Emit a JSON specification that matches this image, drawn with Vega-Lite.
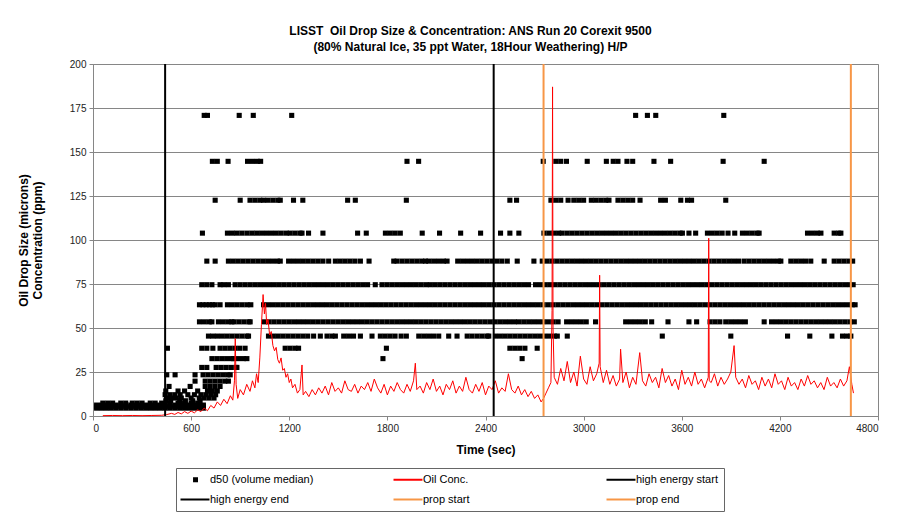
{
"$schema":"https://vega.github.io/schema/vega-lite/v6.json",
"width":785,"height":352,
"autosize":{"type":"none"},
"padding":{"left":93,"top":64,"right":25,"bottom":97},
"background":"white",
"title":{"text":["LISST\u00a0 Oil Drop Size & Concentration: ANS Run 20 Corexit 9500","(80% Natural Ice, 35 ppt Water, 18Hour Weathering) H/P"],"font":"Liberation Sans","fontSize":12,"fontWeight":"bold","color":"#000","anchor":"middle","offset":5,"dx":-15,"lineHeight":16},
"config":{"view":{"stroke":"#868686","strokeWidth":1},
"axis":{"labelFont":"Liberation Sans","titleFont":"Liberation Sans","labelFontSize":10,"titleFontSize":12,"titleFontWeight":"bold","labelColor":"#222","titleColor":"#000","tickColor":"#868686","domainColor":"#868686","tickSize":4,"labelPadding":3},
"legend":{"title":null,"orient":"none","legendX":83,"legendY":404,"columns":3,"direction":"horizontal","gridAlign":"all","columnPadding":75,"rowPadding":8,"padding":6,"strokeColor":"#666","fillColor":"white","labelFont":"Liberation Sans","labelFontSize":11,"labelColor":"#000","labelOffset":17,"symbolSize":196,"labelLimit":250}},
"datasets":{
"d50":[
{"t":22,"d":4.46},{"t":52,"d":4.46},{"t":82,"d":4.46},{"t":112,"d":4.46},{"t":142,"d":4.46},{"t":172,"d":4.46},{"t":202,"d":4.46},{"t":232,"d":4.46},{"t":262,"d":4.46},{"t":292,"d":4.46},{"t":322,"d":4.46},{"t":352,"d":4.46},{"t":382,"d":4.46},{"t":412,"d":4.46},{"t":441,"d":4.46},{"t":470,"d":4.46},{"t":500,"d":4.46},{"t":530,"d":4.46},{"t":560,"d":4.46},{"t":590,"d":4.46},{"t":620,"d":4.46},{"t":650,"d":4.46},{"t":675,"d":4.46},
{"t":22,"d":5.27},{"t":52,"d":5.27},{"t":82,"d":5.27},{"t":112,"d":5.27},{"t":142,"d":5.27},{"t":172,"d":5.27},{"t":202,"d":5.27},{"t":232,"d":5.27},{"t":262,"d":5.27},{"t":292,"d":5.27},{"t":322,"d":5.27},{"t":352,"d":5.27},{"t":382,"d":5.27},{"t":412,"d":5.27},{"t":441,"d":5.27},{"t":470,"d":5.27},{"t":500,"d":5.27},{"t":530,"d":5.27},{"t":560,"d":5.27},{"t":590,"d":5.27},{"t":620,"d":5.27},{"t":650,"d":5.27},{"t":675,"d":5.27},
{"t":22,"d":6.21},{"t":52,"d":6.21},{"t":82,"d":6.21},{"t":112,"d":6.21},{"t":142,"d":6.21},{"t":172,"d":6.21},{"t":202,"d":6.21},{"t":232,"d":6.21},{"t":262,"d":6.21},{"t":292,"d":6.21},{"t":322,"d":6.21},{"t":352,"d":6.21},{"t":382,"d":6.21},{"t":412,"d":6.21},{"t":441,"d":6.21},{"t":470,"d":6.21},{"t":500,"d":6.21},{"t":530,"d":6.21},{"t":560,"d":6.21},{"t":590,"d":6.21},{"t":620,"d":6.21},{"t":650,"d":6.21},{"t":675,"d":6.21},
{"t":60,"d":7.33},{"t":90,"d":7.33},{"t":120,"d":7.33},{"t":170,"d":7.33},{"t":200,"d":7.33},{"t":240,"d":7.33},{"t":270,"d":7.33},{"t":300,"d":7.33},{"t":350,"d":7.33},{"t":380,"d":7.33},{"t":420,"d":7.33},{"t":470,"d":7.33},{"t":520,"d":7.33},{"t":560,"d":7.33},{"t":600,"d":7.33},{"t":640,"d":7.33},
{"t":445,"d":8.65},{"t":475,"d":8.65},{"t":530,"d":8.65},{"t":565,"d":8.65},{"t":610,"d":8.65},{"t":655,"d":8.65},
{"t":450,"d":10.2},{"t":480,"d":10.2},{"t":510,"d":10.2},{"t":540,"d":10.2},{"t":600,"d":10.2},{"t":650,"d":10.2},{"t":680,"d":10.2},{"t":710,"d":10.2},{"t":740,"d":10.2},
{"t":441,"d":12.1},{"t":470,"d":12.1},{"t":500,"d":12.1},{"t":533,"d":12.1},{"t":580,"d":12.1},{"t":620,"d":12.1},{"t":660,"d":12.1},{"t":690,"d":12.1},{"t":720,"d":12.1},{"t":750,"d":12.1},
{"t":445,"d":14.2},{"t":520,"d":14.2},{"t":560,"d":14.2},{"t":640,"d":14.2},{"t":700,"d":14.2},{"t":730,"d":14.2},{"t":760,"d":14.2},
{"t":465,"d":16.8},{"t":594,"d":16.8},{"t":686,"d":16.8},{"t":716,"d":16.8},{"t":746,"d":16.8},{"t":777,"d":16.8},
{"t":624,"d":19.8},{"t":686,"d":19.8},{"t":716,"d":19.8},{"t":746,"d":19.8},{"t":776,"d":19.8},{"t":806,"d":19.8},{"t":828,"d":19.8},
{"t":451,"d":23.4},{"t":502,"d":23.4},{"t":624,"d":23.4},{"t":673,"d":23.4},{"t":703,"d":23.4},{"t":733,"d":23.4},{"t":763,"d":23.4},{"t":793,"d":23.4},{"t":823,"d":23.4},{"t":839,"d":23.4},
{"t":665,"d":27.6},{"t":696,"d":27.6},{"t":753,"d":27.6},{"t":783,"d":27.6},{"t":813,"d":27.6},{"t":843,"d":27.6},{"t":873,"d":27.6},{"t":880,"d":27.6},
{"t":727,"d":32.6},{"t":757,"d":32.6},{"t":787,"d":32.6},{"t":817,"d":32.6},{"t":847,"d":32.6},{"t":859,"d":32.6},{"t":890,"d":32.6},{"t":920,"d":32.6},{"t":941,"d":32.6},{"t":1773,"d":32.6},{"t":2624,"d":32.6},
{"t":455,"d":38.5},{"t":665,"d":38.5},{"t":696,"d":38.5},{"t":733,"d":38.5},{"t":777,"d":38.5},{"t":807,"d":38.5},{"t":837,"d":38.5},{"t":867,"d":38.5},{"t":897,"d":38.5},{"t":930,"d":38.5},{"t":1175,"d":38.5},{"t":1205,"d":38.5},{"t":1235,"d":38.5},{"t":1257,"d":38.5},{"t":1794,"d":38.5},{"t":2549,"d":38.5},{"t":2579,"d":38.5},{"t":2609,"d":38.5},{"t":2641,"d":38.5},{"t":2716,"d":38.5},
{"t":706,"d":45.4},{"t":733,"d":45.4},{"t":761,"d":45.4},{"t":791,"d":45.4},{"t":821,"d":45.4},{"t":851,"d":45.4},{"t":881,"d":45.4},{"t":911,"d":45.4},{"t":941,"d":45.4},{"t":951,"d":45.4},{"t":1073,"d":45.4},{"t":1103,"d":45.4},{"t":1133,"d":45.4},{"t":1163,"d":45.4},{"t":1193,"d":45.4},{"t":1223,"d":45.4},{"t":1253,"d":45.4},{"t":1283,"d":45.4},{"t":1313,"d":45.4},{"t":1349,"d":45.4},{"t":1390,"d":45.4},{"t":1431,"d":45.4},{"t":1461,"d":45.4},{"t":1482,"d":45.4},{"t":1533,"d":45.4},{"t":1563,"d":45.4},{"t":1593,"d":45.4},{"t":1635,"d":45.4},{"t":1706,"d":45.4},{"t":1757,"d":45.4},{"t":1787,"d":45.4},{"t":1817,"d":45.4},{"t":1847,"d":45.4},{"t":1884,"d":45.4},{"t":1916,"d":45.4},{"t":1992,"d":45.4},{"t":2022,"d":45.4},{"t":2052,"d":45.4},{"t":2082,"d":45.4},{"t":2114,"d":45.4},{"t":2175,"d":45.4},{"t":2226,"d":45.4},{"t":2288,"d":45.4},{"t":2318,"d":45.4},{"t":2349,"d":45.4},{"t":2379,"d":45.4},{"t":2409,"d":45.4},{"t":2420,"d":45.4},{"t":2461,"d":45.4},{"t":2491,"d":45.4},{"t":2521,"d":45.4},{"t":2551,"d":45.4},{"t":2581,"d":45.4},{"t":2611,"d":45.4},{"t":2641,"d":45.4},{"t":2671,"d":45.4},{"t":2701,"d":45.4},{"t":2731,"d":45.4},{"t":2761,"d":45.4},{"t":2791,"d":45.4},{"t":2821,"d":45.4},{"t":2839,"d":45.4},{"t":2900,"d":45.4},{"t":3481,"d":45.4},{"t":3900,"d":45.4},{"t":4247,"d":45.4},{"t":4383,"d":45.4},{"t":4518,"d":45.4},{"t":4583,"d":45.4},{"t":4610,"d":45.4},{"t":4634,"d":45.4},
{"t":651,"d":53.5},{"t":681,"d":53.5},{"t":711,"d":53.5},{"t":727,"d":53.5},{"t":767,"d":53.5},{"t":797,"d":53.5},{"t":827,"d":53.5},{"t":849,"d":53.5},{"t":863,"d":53.5},{"t":893,"d":53.5},{"t":923,"d":53.5},{"t":953,"d":53.5},{"t":961,"d":53.5},{"t":1047,"d":53.5},{"t":1077,"d":53.5},{"t":1107,"d":53.5},{"t":1137,"d":53.5},{"t":1167,"d":53.5},{"t":1197,"d":53.5},{"t":1227,"d":53.5},{"t":1257,"d":53.5},{"t":1287,"d":53.5},{"t":1317,"d":53.5},{"t":1347,"d":53.5},{"t":1377,"d":53.5},{"t":1407,"d":53.5},{"t":1437,"d":53.5},{"t":1467,"d":53.5},{"t":1497,"d":53.5},{"t":1527,"d":53.5},{"t":1557,"d":53.5},{"t":1587,"d":53.5},{"t":1617,"d":53.5},{"t":1647,"d":53.5},{"t":1677,"d":53.5},{"t":1707,"d":53.5},{"t":1737,"d":53.5},{"t":1767,"d":53.5},{"t":1797,"d":53.5},{"t":1827,"d":53.5},{"t":1857,"d":53.5},{"t":1887,"d":53.5},{"t":1917,"d":53.5},{"t":1947,"d":53.5},{"t":1977,"d":53.5},{"t":2007,"d":53.5},{"t":2037,"d":53.5},{"t":2067,"d":53.5},{"t":2097,"d":53.5},{"t":2127,"d":53.5},{"t":2157,"d":53.5},{"t":2187,"d":53.5},{"t":2217,"d":53.5},{"t":2247,"d":53.5},{"t":2277,"d":53.5},{"t":2307,"d":53.5},{"t":2337,"d":53.5},{"t":2367,"d":53.5},{"t":2397,"d":53.5},{"t":2427,"d":53.5},{"t":2457,"d":53.5},{"t":2487,"d":53.5},{"t":2517,"d":53.5},{"t":2547,"d":53.5},{"t":2577,"d":53.5},{"t":2604,"d":53.5},{"t":2634,"d":53.5},{"t":2664,"d":53.5},{"t":2694,"d":53.5},{"t":2724,"d":53.5},{"t":2754,"d":53.5},{"t":2784,"d":53.5},{"t":2814,"d":53.5},{"t":2844,"d":53.5},{"t":2896,"d":53.5},{"t":2926,"d":53.5},{"t":2956,"d":53.5},{"t":2986,"d":53.5},{"t":3016,"d":53.5},{"t":3073,"d":53.5},{"t":3257,"d":53.5},{"t":3287,"d":53.5},{"t":3317,"d":53.5},{"t":3347,"d":53.5},{"t":3377,"d":53.5},{"t":3416,"d":53.5},{"t":3516,"d":53.5},{"t":3644,"d":53.5},{"t":3691,"d":53.5},{"t":3773,"d":53.5},{"t":3803,"d":53.5},{"t":3833,"d":53.5},{"t":3869,"d":53.5},{"t":3899,"d":53.5},{"t":3929,"d":53.5},{"t":3959,"d":53.5},{"t":3989,"d":53.5},{"t":4104,"d":53.5},{"t":4149,"d":53.5},{"t":4179,"d":53.5},{"t":4209,"d":53.5},{"t":4239,"d":53.5},{"t":4269,"d":53.5},{"t":4299,"d":53.5},{"t":4329,"d":53.5},{"t":4359,"d":53.5},{"t":4389,"d":53.5},{"t":4419,"d":53.5},{"t":4449,"d":53.5},{"t":4479,"d":53.5},{"t":4509,"d":53.5},{"t":4539,"d":53.5},{"t":4569,"d":53.5},{"t":4599,"d":53.5},{"t":4629,"d":53.5},{"t":4655,"d":53.5},
{"t":651,"d":63.2},{"t":672,"d":63.2},{"t":692,"d":63.2},{"t":712,"d":63.2},{"t":730,"d":63.2},{"t":747,"d":63.2},{"t":777,"d":63.2},{"t":822,"d":63.2},{"t":852,"d":63.2},{"t":882,"d":63.2},{"t":912,"d":63.2},{"t":942,"d":63.2},{"t":965,"d":63.2},{"t":1043,"d":63.2},{"t":1073,"d":63.2},{"t":1103,"d":63.2},{"t":1133,"d":63.2},{"t":1163,"d":63.2},{"t":1193,"d":63.2},{"t":1223,"d":63.2},{"t":1253,"d":63.2},{"t":1283,"d":63.2},{"t":1313,"d":63.2},{"t":1343,"d":63.2},{"t":1373,"d":63.2},{"t":1403,"d":63.2},{"t":1433,"d":63.2},{"t":1463,"d":63.2},{"t":1493,"d":63.2},{"t":1523,"d":63.2},{"t":1553,"d":63.2},{"t":1583,"d":63.2},{"t":1613,"d":63.2},{"t":1643,"d":63.2},{"t":1673,"d":63.2},{"t":1703,"d":63.2},{"t":1733,"d":63.2},{"t":1763,"d":63.2},{"t":1793,"d":63.2},{"t":1823,"d":63.2},{"t":1853,"d":63.2},{"t":1883,"d":63.2},{"t":1913,"d":63.2},{"t":1943,"d":63.2},{"t":1973,"d":63.2},{"t":2003,"d":63.2},{"t":2033,"d":63.2},{"t":2063,"d":63.2},{"t":2093,"d":63.2},{"t":2123,"d":63.2},{"t":2153,"d":63.2},{"t":2183,"d":63.2},{"t":2213,"d":63.2},{"t":2243,"d":63.2},{"t":2273,"d":63.2},{"t":2303,"d":63.2},{"t":2333,"d":63.2},{"t":2363,"d":63.2},{"t":2393,"d":63.2},{"t":2423,"d":63.2},{"t":2453,"d":63.2},{"t":2483,"d":63.2},{"t":2513,"d":63.2},{"t":2543,"d":63.2},{"t":2573,"d":63.2},{"t":2603,"d":63.2},{"t":2633,"d":63.2},{"t":2663,"d":63.2},{"t":2693,"d":63.2},{"t":2723,"d":63.2},{"t":2753,"d":63.2},{"t":2783,"d":63.2},{"t":2813,"d":63.2},{"t":2843,"d":63.2},{"t":2873,"d":63.2},{"t":2903,"d":63.2},{"t":2933,"d":63.2},{"t":2963,"d":63.2},{"t":2993,"d":63.2},{"t":3023,"d":63.2},{"t":3053,"d":63.2},{"t":3083,"d":63.2},{"t":3113,"d":63.2},{"t":3143,"d":63.2},{"t":3173,"d":63.2},{"t":3203,"d":63.2},{"t":3233,"d":63.2},{"t":3263,"d":63.2},{"t":3293,"d":63.2},{"t":3323,"d":63.2},{"t":3353,"d":63.2},{"t":3383,"d":63.2},{"t":3413,"d":63.2},{"t":3443,"d":63.2},{"t":3473,"d":63.2},{"t":3503,"d":63.2},{"t":3533,"d":63.2},{"t":3563,"d":63.2},{"t":3593,"d":63.2},{"t":3623,"d":63.2},{"t":3653,"d":63.2},{"t":3683,"d":63.2},{"t":3713,"d":63.2},{"t":3743,"d":63.2},{"t":3773,"d":63.2},{"t":3803,"d":63.2},{"t":3833,"d":63.2},{"t":3863,"d":63.2},{"t":3893,"d":63.2},{"t":3923,"d":63.2},{"t":3953,"d":63.2},{"t":3983,"d":63.2},{"t":4013,"d":63.2},{"t":4043,"d":63.2},{"t":4073,"d":63.2},{"t":4103,"d":63.2},{"t":4133,"d":63.2},{"t":4163,"d":63.2},{"t":4193,"d":63.2},{"t":4223,"d":63.2},{"t":4253,"d":63.2},{"t":4283,"d":63.2},{"t":4313,"d":63.2},{"t":4343,"d":63.2},{"t":4373,"d":63.2},{"t":4403,"d":63.2},{"t":4433,"d":63.2},{"t":4463,"d":63.2},{"t":4493,"d":63.2},{"t":4523,"d":63.2},{"t":4553,"d":63.2},{"t":4583,"d":63.2},{"t":4613,"d":63.2},{"t":4643,"d":63.2},{"t":4660,"d":63.2},
{"t":665,"d":74.6},{"t":695,"d":74.6},{"t":727,"d":74.6},{"t":777,"d":74.6},{"t":800,"d":74.6},{"t":828,"d":74.6},{"t":869,"d":74.6},{"t":899,"d":74.6},{"t":929,"d":74.6},{"t":959,"d":74.6},{"t":989,"d":74.6},{"t":1019,"d":74.6},{"t":1049,"d":74.6},{"t":1079,"d":74.6},{"t":1109,"d":74.6},{"t":1139,"d":74.6},{"t":1169,"d":74.6},{"t":1199,"d":74.6},{"t":1229,"d":74.6},{"t":1259,"d":74.6},{"t":1289,"d":74.6},{"t":1319,"d":74.6},{"t":1349,"d":74.6},{"t":1379,"d":74.6},{"t":1409,"d":74.6},{"t":1439,"d":74.6},{"t":1469,"d":74.6},{"t":1499,"d":74.6},{"t":1529,"d":74.6},{"t":1559,"d":74.6},{"t":1589,"d":74.6},{"t":1619,"d":74.6},{"t":1649,"d":74.6},{"t":1679,"d":74.6},{"t":1726,"d":74.6},{"t":1767,"d":74.6},{"t":1797,"d":74.6},{"t":1827,"d":74.6},{"t":1857,"d":74.6},{"t":1887,"d":74.6},{"t":1917,"d":74.6},{"t":1947,"d":74.6},{"t":1977,"d":74.6},{"t":2007,"d":74.6},{"t":2037,"d":74.6},{"t":2063,"d":74.6},{"t":2093,"d":74.6},{"t":2123,"d":74.6},{"t":2153,"d":74.6},{"t":2183,"d":74.6},{"t":2213,"d":74.6},{"t":2243,"d":74.6},{"t":2273,"d":74.6},{"t":2303,"d":74.6},{"t":2333,"d":74.6},{"t":2363,"d":74.6},{"t":2393,"d":74.6},{"t":2423,"d":74.6},{"t":2453,"d":74.6},{"t":2483,"d":74.6},{"t":2513,"d":74.6},{"t":2543,"d":74.6},{"t":2573,"d":74.6},{"t":2603,"d":74.6},{"t":2633,"d":74.6},{"t":2663,"d":74.6},{"t":2706,"d":74.6},{"t":2736,"d":74.6},{"t":2766,"d":74.6},{"t":2796,"d":74.6},{"t":2826,"d":74.6},{"t":2856,"d":74.6},{"t":2886,"d":74.6},{"t":2916,"d":74.6},{"t":2946,"d":74.6},{"t":2976,"d":74.6},{"t":3006,"d":74.6},{"t":3036,"d":74.6},{"t":3066,"d":74.6},{"t":3096,"d":74.6},{"t":3126,"d":74.6},{"t":3156,"d":74.6},{"t":3186,"d":74.6},{"t":3216,"d":74.6},{"t":3246,"d":74.6},{"t":3276,"d":74.6},{"t":3306,"d":74.6},{"t":3336,"d":74.6},{"t":3366,"d":74.6},{"t":3396,"d":74.6},{"t":3426,"d":74.6},{"t":3456,"d":74.6},{"t":3486,"d":74.6},{"t":3516,"d":74.6},{"t":3546,"d":74.6},{"t":3576,"d":74.6},{"t":3606,"d":74.6},{"t":3636,"d":74.6},{"t":3666,"d":74.6},{"t":3696,"d":74.6},{"t":3726,"d":74.6},{"t":3756,"d":74.6},{"t":3786,"d":74.6},{"t":3816,"d":74.6},{"t":3846,"d":74.6},{"t":3876,"d":74.6},{"t":3906,"d":74.6},{"t":3936,"d":74.6},{"t":3966,"d":74.6},{"t":3996,"d":74.6},{"t":4026,"d":74.6},{"t":4056,"d":74.6},{"t":4086,"d":74.6},{"t":4116,"d":74.6},{"t":4146,"d":74.6},{"t":4176,"d":74.6},{"t":4206,"d":74.6},{"t":4236,"d":74.6},{"t":4266,"d":74.6},{"t":4296,"d":74.6},{"t":4326,"d":74.6},{"t":4356,"d":74.6},{"t":4386,"d":74.6},{"t":4416,"d":74.6},{"t":4446,"d":74.6},{"t":4476,"d":74.6},{"t":4506,"d":74.6},{"t":4536,"d":74.6},{"t":4566,"d":74.6},{"t":4596,"d":74.6},{"t":4626,"d":74.6},{"t":4648,"d":74.6},
{"t":696,"d":88},{"t":747,"d":88},{"t":828,"d":88},{"t":858,"d":88},{"t":888,"d":88},{"t":918,"d":88},{"t":948,"d":88},{"t":978,"d":88},{"t":1008,"d":88},{"t":1038,"d":88},{"t":1068,"d":88},{"t":1098,"d":88},{"t":1128,"d":88},{"t":1145,"d":88},{"t":1196,"d":88},{"t":1226,"d":88},{"t":1256,"d":88},{"t":1286,"d":88},{"t":1316,"d":88},{"t":1346,"d":88},{"t":1376,"d":88},{"t":1406,"d":88},{"t":1441,"d":88},{"t":1482,"d":88},{"t":1512,"d":88},{"t":1542,"d":88},{"t":1572,"d":88},{"t":1602,"d":88},{"t":1635,"d":88},{"t":1688,"d":88},{"t":1839,"d":88},{"t":1859,"d":88},{"t":1890,"d":88},{"t":1920,"d":88},{"t":1950,"d":88},{"t":1980,"d":88},{"t":2010,"d":88},{"t":2033,"d":88},{"t":2053,"d":88},{"t":2083,"d":88},{"t":2113,"d":88},{"t":2143,"d":88},{"t":2165,"d":88},{"t":2230,"d":88},{"t":2260,"d":88},{"t":2290,"d":88},{"t":2320,"d":88},{"t":2350,"d":88},{"t":2380,"d":88},{"t":2410,"d":88},{"t":2440,"d":88},{"t":2470,"d":88},{"t":2500,"d":88},{"t":2533,"d":88},{"t":2594,"d":88},{"t":2696,"d":88},{"t":2747,"d":88},{"t":2777,"d":88},{"t":2807,"d":88},{"t":2837,"d":88},{"t":2867,"d":88},{"t":2897,"d":88},{"t":2927,"d":88},{"t":2957,"d":88},{"t":2987,"d":88},{"t":3017,"d":88},{"t":3047,"d":88},{"t":3077,"d":88},{"t":3107,"d":88},{"t":3137,"d":88},{"t":3167,"d":88},{"t":3197,"d":88},{"t":3227,"d":88},{"t":3257,"d":88},{"t":3287,"d":88},{"t":3317,"d":88},{"t":3347,"d":88},{"t":3377,"d":88},{"t":3407,"d":88},{"t":3437,"d":88},{"t":3467,"d":88},{"t":3497,"d":88},{"t":3527,"d":88},{"t":3557,"d":88},{"t":3587,"d":88},{"t":3617,"d":88},{"t":3647,"d":88},{"t":3677,"d":88},{"t":3707,"d":88},{"t":3737,"d":88},{"t":3767,"d":88},{"t":3797,"d":88},{"t":3827,"d":88},{"t":3857,"d":88},{"t":3887,"d":88},{"t":3917,"d":88},{"t":3947,"d":88},{"t":3981,"d":88},{"t":4011,"d":88},{"t":4041,"d":88},{"t":4071,"d":88},{"t":4101,"d":88},{"t":4131,"d":88},{"t":4161,"d":88},{"t":4191,"d":88},{"t":4206,"d":88},{"t":4267,"d":88},{"t":4297,"d":88},{"t":4327,"d":88},{"t":4357,"d":88},{"t":4389,"d":88},{"t":4471,"d":88},{"t":4532,"d":88},{"t":4562,"d":88},{"t":4592,"d":88},{"t":4622,"d":88},{"t":4645,"d":88},
{"t":669,"d":103.9},{"t":822,"d":103.9},{"t":852,"d":103.9},{"t":880,"d":103.9},{"t":910,"d":103.9},{"t":941,"d":103.9},{"t":971,"d":103.9},{"t":1001,"d":103.9},{"t":1031,"d":103.9},{"t":1061,"d":103.9},{"t":1091,"d":103.9},{"t":1121,"d":103.9},{"t":1151,"d":103.9},{"t":1182,"d":103.9},{"t":1206,"d":103.9},{"t":1236,"d":103.9},{"t":1266,"d":103.9},{"t":1278,"d":103.9},{"t":1318,"d":103.9},{"t":1406,"d":103.9},{"t":1618,"d":103.9},{"t":1671,"d":103.9},{"t":1788,"d":103.9},{"t":1818,"d":103.9},{"t":1848,"d":103.9},{"t":1879,"d":103.9},{"t":2013,"d":103.9},{"t":2119,"d":103.9},{"t":2248,"d":103.9},{"t":2370,"d":103.9},{"t":2492,"d":103.9},{"t":2549,"d":103.9},{"t":2604,"d":103.9},{"t":2757,"d":103.9},{"t":2787,"d":103.9},{"t":2817,"d":103.9},{"t":2847,"d":103.9},{"t":2869,"d":103.9},{"t":2900,"d":103.9},{"t":2930,"d":103.9},{"t":2960,"d":103.9},{"t":2990,"d":103.9},{"t":3020,"d":103.9},{"t":3050,"d":103.9},{"t":3080,"d":103.9},{"t":3110,"d":103.9},{"t":3140,"d":103.9},{"t":3170,"d":103.9},{"t":3200,"d":103.9},{"t":3230,"d":103.9},{"t":3260,"d":103.9},{"t":3290,"d":103.9},{"t":3320,"d":103.9},{"t":3350,"d":103.9},{"t":3380,"d":103.9},{"t":3410,"d":103.9},{"t":3440,"d":103.9},{"t":3470,"d":103.9},{"t":3500,"d":103.9},{"t":3530,"d":103.9},{"t":3560,"d":103.9},{"t":3590,"d":103.9},{"t":3604,"d":103.9},{"t":3644,"d":103.9},{"t":3685,"d":103.9},{"t":3757,"d":103.9},{"t":3787,"d":103.9},{"t":3817,"d":103.9},{"t":3847,"d":103.9},{"t":3883,"d":103.9},{"t":3924,"d":103.9},{"t":3971,"d":103.9},{"t":4001,"d":103.9},{"t":4031,"d":103.9},{"t":4061,"d":103.9},{"t":4073,"d":103.9},{"t":4369,"d":103.9},{"t":4399,"d":103.9},{"t":4429,"d":103.9},{"t":4451,"d":103.9},{"t":4532,"d":103.9},{"t":4560,"d":103.9},{"t":4573,"d":103.9},
{"t":747,"d":122.6},{"t":900,"d":122.6},{"t":960,"d":122.6},{"t":990,"d":122.6},{"t":1020,"d":122.6},{"t":1043,"d":122.6},{"t":1070,"d":122.6},{"t":1100,"d":122.6},{"t":1130,"d":122.6},{"t":1145,"d":122.6},{"t":1226,"d":122.6},{"t":1283,"d":122.6},{"t":1557,"d":122.6},{"t":1604,"d":122.6},{"t":1916,"d":122.6},{"t":2549,"d":122.6},{"t":2590,"d":122.6},{"t":2800,"d":122.6},{"t":2830,"d":122.6},{"t":2860,"d":122.6},{"t":2905,"d":122.6},{"t":2940,"d":122.6},{"t":2970,"d":122.6},{"t":3000,"d":122.6},{"t":3047,"d":122.6},{"t":3075,"d":122.6},{"t":3105,"d":122.6},{"t":3135,"d":122.6},{"t":3155,"d":122.6},{"t":3210,"d":122.6},{"t":3240,"d":122.6},{"t":3270,"d":122.6},{"t":3300,"d":122.6},{"t":3345,"d":122.6},{"t":3471,"d":122.6},{"t":3500,"d":122.6},{"t":3594,"d":122.6},{"t":3635,"d":122.6},{"t":3660,"d":122.6},{"t":3869,"d":122.6},
{"t":730,"d":144.7},{"t":760,"d":144.7},{"t":826,"d":144.7},{"t":945,"d":144.7},{"t":975,"d":144.7},{"t":1005,"d":144.7},{"t":1025,"d":144.7},{"t":1920,"d":144.7},{"t":1991,"d":144.7},{"t":2753,"d":144.7},{"t":2830,"d":144.7},{"t":2860,"d":144.7},{"t":2895,"d":144.7},{"t":3022,"d":144.7},{"t":3139,"d":144.7},{"t":3181,"d":144.7},{"t":3210,"d":144.7},{"t":3265,"d":144.7},{"t":3300,"d":144.7},{"t":3430,"d":144.7},{"t":3532,"d":144.7},{"t":3853,"d":144.7},{"t":4104,"d":144.7},
{"t":680,"d":170.8},{"t":700,"d":170.8},{"t":894,"d":170.8},{"t":980,"d":170.8},{"t":1215,"d":170.8},{"t":3318,"d":170.8},{"t":3390,"d":170.8},{"t":3441,"d":170.8},{"t":3857,"d":170.8}
],
"conc":[
{"t":60,"c":0.2},{"t":120,"c":0.3},{"t":180,"c":0.2},{"t":240,"c":0.3},{"t":300,"c":0.2},{"t":360,"c":0.3},{"t":420,"c":0.4},{"t":450,"c":0.8},{"t":480,"c":1.5},{"t":500,"c":0.9},{"t":520,"c":2},{"t":540,"c":1.2},{"t":560,"c":2.5},{"t":580,"c":1.5},{"t":600,"c":2.8},{"t":620,"c":1.8},{"t":640,"c":3.5},{"t":660,"c":2.5},{"t":680,"c":4.5},{"t":700,"c":3},{"t":720,"c":6},{"t":740,"c":4.5},{"t":760,"c":8},{"t":780,"c":6},{"t":800,"c":9.5},{"t":820,"c":7},{"t":840,"c":11.5},{"t":855,"c":9},{"t":865,"c":20},{"t":870,"c":44},{"t":875,"c":18},{"t":885,"c":10},{"t":900,"c":15},{"t":920,"c":12},{"t":940,"c":18},{"t":960,"c":14},{"t":975,"c":20},{"t":990,"c":16},{"t":1000,"c":24},{"t":1010,"c":19},{"t":1020,"c":33},{"t":1030,"c":52},{"t":1040,"c":69},{"t":1048,"c":58},{"t":1055,"c":64},{"t":1062,"c":52},{"t":1070,"c":55},{"t":1080,"c":46},{"t":1090,"c":48},{"t":1100,"c":40},{"t":1110,"c":37},{"t":1120,"c":39},{"t":1130,"c":32},{"t":1140,"c":30},{"t":1150,"c":33},{"t":1160,"c":26},{"t":1170,"c":27},{"t":1180,"c":22},{"t":1190,"c":24},{"t":1200,"c":19},{"t":1210,"c":21},{"t":1220,"c":16},{"t":1235,"c":18},{"t":1250,"c":13},{"t":1265,"c":15},{"t":1278,"c":29},{"t":1285,"c":12},{"t":1300,"c":14},{"t":1320,"c":11},{"t":1340,"c":15},{"t":1360,"c":12},{"t":1380,"c":16},{"t":1400,"c":13},{"t":1420,"c":17},{"t":1440,"c":12},{"t":1460,"c":19},{"t":1480,"c":14},{"t":1500,"c":16},{"t":1520,"c":13},{"t":1540,"c":20},{"t":1560,"c":15},{"t":1580,"c":14},{"t":1600,"c":18},{"t":1620,"c":13},{"t":1640,"c":17},{"t":1660,"c":15},{"t":1680,"c":19},{"t":1700,"c":14},{"t":1720,"c":21},{"t":1740,"c":16},{"t":1760,"c":13},{"t":1780,"c":18},{"t":1800,"c":12},{"t":1820,"c":17},{"t":1840,"c":14},{"t":1860,"c":19},{"t":1880,"c":15},{"t":1900,"c":13},{"t":1920,"c":18},{"t":1940,"c":14},{"t":1960,"c":20},{"t":1971,"c":30},{"t":1980,"c":15},{"t":2000,"c":17},{"t":2020,"c":13},{"t":2040,"c":19},{"t":2060,"c":15},{"t":2080,"c":21},{"t":2100,"c":14},{"t":2120,"c":17},{"t":2140,"c":12},{"t":2160,"c":18},{"t":2180,"c":15},{"t":2200,"c":20},{"t":2220,"c":13},{"t":2240,"c":17},{"t":2260,"c":14},{"t":2280,"c":22},{"t":2300,"c":15},{"t":2320,"c":13},{"t":2340,"c":18},{"t":2360,"c":14},{"t":2380,"c":19},{"t":2400,"c":12},{"t":2420,"c":17},{"t":2440,"c":15},{"t":2460,"c":20},{"t":2480,"c":13},{"t":2500,"c":16},{"t":2520,"c":14},{"t":2540,"c":24},{"t":2560,"c":15},{"t":2580,"c":13},{"t":2600,"c":17},{"t":2620,"c":12},{"t":2640,"c":15},{"t":2660,"c":11},{"t":2680,"c":14},{"t":2700,"c":10},{"t":2720,"c":12},{"t":2740,"c":8},{"t":2755,"c":10},{"t":2770,"c":13},{"t":2785,"c":16},{"t":2800,"c":19},{"t":2807,"c":60},{"t":2810,"c":187},{"t":2813,"c":50},{"t":2820,"c":22},{"t":2840,"c":18},{"t":2860,"c":27},{"t":2880,"c":20},{"t":2900,"c":31},{"t":2920,"c":19},{"t":2940,"c":25},{"t":2960,"c":17},{"t":2980,"c":34},{"t":3000,"c":21},{"t":3020,"c":18},{"t":3040,"c":28},{"t":3060,"c":20},{"t":3080,"c":24},{"t":3095,"c":30},{"t":3098,"c":80},{"t":3101,"c":28},{"t":3120,"c":19},{"t":3140,"c":26},{"t":3160,"c":18},{"t":3180,"c":23},{"t":3200,"c":17},{"t":3220,"c":21},{"t":3226,"c":38},{"t":3240,"c":19},{"t":3260,"c":25},{"t":3280,"c":16},{"t":3300,"c":22},{"t":3320,"c":18},{"t":3343,"c":36},{"t":3360,"c":20},{"t":3380,"c":17},{"t":3400,"c":24},{"t":3420,"c":19},{"t":3440,"c":22},{"t":3460,"c":16},{"t":3480,"c":27},{"t":3500,"c":19},{"t":3520,"c":23},{"t":3540,"c":17},{"t":3560,"c":21},{"t":3580,"c":15},{"t":3600,"c":26},{"t":3620,"c":18},{"t":3640,"c":22},{"t":3660,"c":17},{"t":3680,"c":25},{"t":3700,"c":18},{"t":3720,"c":21},{"t":3740,"c":16},{"t":3762,"c":22},{"t":3765,"c":101},{"t":3768,"c":20},{"t":3780,"c":19},{"t":3800,"c":24},{"t":3820,"c":17},{"t":3840,"c":22},{"t":3860,"c":18},{"t":3880,"c":21},{"t":3900,"c":25},{"t":3920,"c":40},{"t":3930,"c":22},{"t":3950,"c":18},{"t":3970,"c":21},{"t":3990,"c":16},{"t":4010,"c":23},{"t":4030,"c":18},{"t":4050,"c":20},{"t":4070,"c":15},{"t":4090,"c":22},{"t":4110,"c":17},{"t":4130,"c":21},{"t":4150,"c":16},{"t":4170,"c":24},{"t":4190,"c":18},{"t":4210,"c":20},{"t":4230,"c":15},{"t":4250,"c":22},{"t":4270,"c":17},{"t":4290,"c":19},{"t":4310,"c":15},{"t":4330,"c":21},{"t":4350,"c":17},{"t":4370,"c":23},{"t":4390,"c":18},{"t":4410,"c":20},{"t":4430,"c":16},{"t":4450,"c":19},{"t":4470,"c":15},{"t":4490,"c":22},{"t":4510,"c":17},{"t":4530,"c":19},{"t":4550,"c":16},{"t":4570,"c":21},{"t":4590,"c":17},{"t":4610,"c":20},{"t":4625,"c":28},{"t":4640,"c":18},{"t":4650,"c":13}
],
"events":[
{"t":441,"series":"high energy start"},
{"t":2450,"series":"high energy end"},
{"t":2755,"series":"prop start"},
{"t":4634,"series":"prop end"}
]
},
"layer":[
{"data":{"name":"d50"},
 "mark":{"type":"point","shape":"square","filled":true,"size":26,"opacity":1},
 "encoding":{
  "x":{"field":"t","type":"quantitative","scale":{"domain":[0,4800],"nice":false},
       "axis":{"title":"Time (sec)","values":[0,600,1200,1800,2400,3000,3600,4200,4800],"format":"d","grid":false,"titlePadding":11}},
  "y":{"field":"d","type":"quantitative","scale":{"domain":[0,200],"nice":false},
       "axis":{"title":["Oil Drop Size (microns)","Concentration (ppm)"],"values":[0,25,50,75,100,125,150,175,200],"grid":true,"gridColor":"#868686","gridWidth":1,"titlePadding":25}},
  "color":{"datum":"d50 (volume median)","type":"nominal",
   "scale":{"domain":["d50 (volume median)","Oil Conc.","high energy start","high energy end","prop start","prop end"],"range":["#000000","#FF0000","#000000","#000000","#F79646","#F79646"]},
   "legend":{"title":null,
    "encode":{"symbols":{"update":{
      "shape":{"signal":"datum.value === 'd50 (volume median)' ? 'M0.79,-0.36H1.5V0.36H0.79Z' : 'M-1,0H3.14'"},
      "fill":{"signal":"datum.value === 'd50 (volume median)' ? '#000000' : 'transparent'"},
      "stroke":{"signal":"scale('color', datum.value)"},
      "strokeWidth":{"signal":"datum.value === 'd50 (volume median)' ? 0 : 2"}}}}}}
 }},
{"data":{"name":"conc"},
 "mark":{"type":"line","strokeWidth":1,"interpolate":"linear"},
 "encoding":{
  "x":{"field":"t","type":"quantitative"},
  "y":{"field":"c","type":"quantitative"},
  "color":{"datum":"Oil Conc.","type":"nominal","legend":{"title":null,
    "encode":{"symbols":{"update":{
      "shape":{"signal":"datum.value === 'd50 (volume median)' ? 'M0.79,-0.36H1.5V0.36H0.79Z' : 'M-1,0H3.14'"},
      "fill":{"signal":"datum.value === 'd50 (volume median)' ? '#000000' : 'transparent'"},
      "stroke":{"signal":"scale('color', datum.value)"},
      "strokeWidth":{"signal":"datum.value === 'd50 (volume median)' ? 0 : 2"}}}}}}
 }},
{"data":{"name":"events"},
 "mark":{"type":"rule","strokeWidth":2},
 "encoding":{
  "x":{"field":"t","type":"quantitative"},
  "color":{"field":"series","type":"nominal","legend":{"title":null,
    "encode":{"symbols":{"update":{
      "shape":{"signal":"datum.value === 'd50 (volume median)' ? 'M0.79,-0.36H1.5V0.36H0.79Z' : 'M-1,0H3.14'"},
      "fill":{"signal":"datum.value === 'd50 (volume median)' ? '#000000' : 'transparent'"},
      "stroke":{"signal":"scale('color', datum.value)"},
      "strokeWidth":{"signal":"datum.value === 'd50 (volume median)' ? 0 : 2"}}}}}}
 }}
]
}
